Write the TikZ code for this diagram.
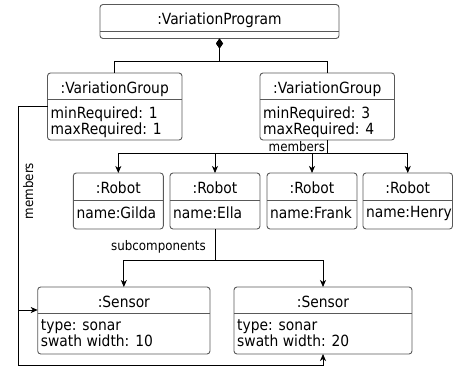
\documentclass[tikz,border=0pt]{standalone}
\usepackage{fontspec}
\setmainfont{DejaVu Sans Condensed}
\usetikzlibrary{calc,arrows.meta}
\tikzset{
	objbox/.style={draw=black!65, line width=0.9pt, rounded corners=3pt, fill=white, anchor=north west, inner sep=0pt, outer sep=0pt},
	objline/.style={draw=black!65, line width=0.9pt},
	objtitle/.style={anchor=base, inner sep=0pt, font=\fontsize{15.4}{15.4}\selectfont},
	objattr/.style={anchor=north west, inner sep=0pt, align=left, font=\fontsize{15.4}{14.5}\selectfont},
	lbl/.style={inner sep=0pt, font=\fontsize{13.2}{13.2}\selectfont},
	assoc/.style={line width=0.8pt, -{Stealth[length=7pt,width=6pt,inset=2pt]}},
	comp/.style={line width=0.8pt, {Diamond[length=10pt,width=7pt]}-}
}
\def\umlobject(#1)(#2,#3)(#4:#5:#6)#7#8{%
	\node[objbox, minimum width=#4, minimum height=#5] (#1) at (#2,#3) {};
	\draw[objline] ($(#1.north west)+(0,#6)$) -- ($(#1.north east)+(0,#6)$);
	\node[objtitle] (#1-title) at ($(#1.north)+(0,20)$) {#7};
	\node[objattr] (#1-attr) at ($(#1.north west)+(3,#6+6.5)$) {#8};
}

\begin{document}
\begin{tikzpicture}[x=1pt, y=-1pt]
				\useasboundingbox (0,0) rectangle (454,370);
				
				\umlobject(vp)(100,4.5)(239:34:27){:VariationProgram}{}
				\umlobject(vg1)(47.5,73)(134.5:67:26.7){:VariationGroup}{minRequired: 1\\maxRequired: 1}
				\umlobject(vg2)(260,73)(134.5:67:26.7){:VariationGroup}{minRequired: 3\\maxRequired: 4}
				
				\umlobject(r1)(73.3,173)(90:56:27){:Robot}{name:Gilda}
				\umlobject(r2)(170,173)(90:56:27){:Robot}{name:Ella}
				\umlobject(r3)(267,173)(90:56:27){:Robot}{name:Frank}
				\umlobject(r4)(363,173)(89.5:56:27){:Robot}{name:Henry}
				
				\umlobject(s1)(37.7,287)(172.3:67:26){:Sensor}{type: sonar\\swath width: 10}
				\umlobject(s2)(234,287)(178:67:26){:Sensor}{type: sonar\\swath width: 20}
				
				% composition
				\draw[comp] (vp.south) -- ++(0,22.5) -| (vg1.north);
				\draw[comp] (vp.south) -- ++(0,22.5) -| (vg2.north);
				
				% members of the second group
				\foreach \r in {r1,r2,r3,r4}
					\draw[assoc] (vg2.south) -- ++(0,13.5) -| (\r.north);
				\node[lbl, anchor=base east] (mem2) at ($(vg2.south)+(-2,11.7)$) {members};
				
				% subcomponents
				\foreach \s in {s1,s2}
					\draw[assoc] (r2.south) -- ++(0,31) -| (\s.north);
				\node[lbl, anchor=base east] (subc) at ($(r2.south)+(-9,21.5)$) {subcomponents};
				
				% members of the first group
				\draw[assoc] (vg1.west) -- ++(-29.5,0) |- ($(s1.north west)+(0,23)$);
				\draw[assoc] (vg1.west) -- ++(-29.5,0) -- ++(0,259.2) -| (s2.south);
				\node[lbl, rotate=90, anchor=base] (mem1) at (33,191) {members};
			\end{tikzpicture}
\end{document}
